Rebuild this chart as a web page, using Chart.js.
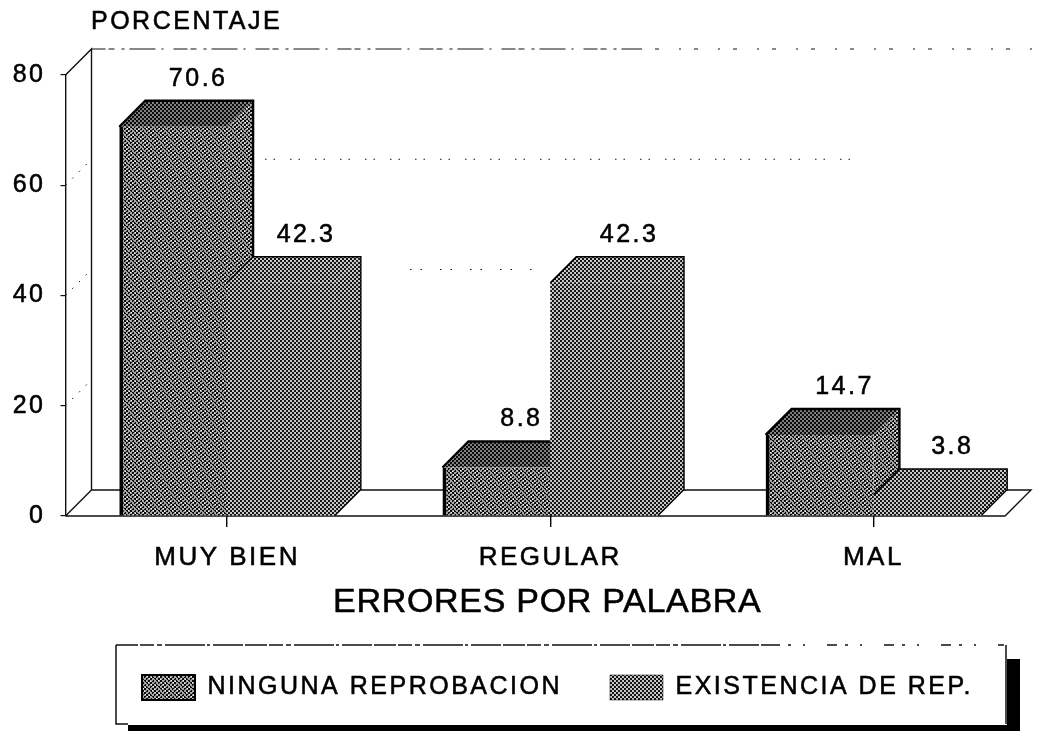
<!DOCTYPE html>
<html>
<head>
<meta charset="utf-8">
<script src="https://cdn.jsdelivr.net/npm/chart.js@4"></script>
<style>html,body{margin:0;padding:0;background:#fff}#w{width:1047px;height:731px}</style>
</head>
<body>
<div id="w"><canvas id="c" width="1047" height="731"></canvas></div>
<script>
const categories = ['MUY BIEN', 'REGULAR', 'MAL'];
const seriesNames = ['NINGUNA REPROBACION', 'EXISTENCIA DE REP.'];
const ningunaReprobacion = [70.6, 8.8, 14.7];
const existenciaDeRep = [42.3, 42.3, 3.8];
const yTicks = [0, 20, 40, 60, 80];
const axisTitleX = 'ERRORES POR PALABRA';
const axisTitleY = 'PORCENTAJE';

const DEPTH = 26;
const LS = '2.5px';
const LEGEND_PAD = 48;
const FONT = '"Liberation Sans", Arial, sans-serif';

function tile(size, fn) {
  const t = document.createElement('canvas');
  t.width = t.height = size;
  const g = t.getContext('2d');
  for (let y = 0; y < size; y++) for (let x = 0; x < size; x++) {
    g.fillStyle = fn(x, y);
    g.fillRect(x, y, 1, 1);
  }
  return document.createElement('canvas').getContext('2d').createPattern(t, 'repeat');
}
const isCell = (x, y) => (x % 4 < 2) === (y % 4 < 2);
// Printed halftone screens
const screenA = tile(44, (x, y) => {
  const speck = ((x * 7 + y * 13) % 44) < 6;
  return isCell(x, y) ? (speck ? '#8a8a8a' : '#0a0a0a') : (speck ? '#ffffff' : '#a8a8a8');
});
const screenB = tile(4, (x, y) => (isCell(x, y) ? '#141414' : '#c8c8c8'));
const screenDark = tile(4, (x, y) => (isCell(x, y) ? '#0a0a0a' : '#808080'));

const ctx = document.getElementById('c').getContext('2d');

// The scan thickens every glyph slightly
const plainFill = ctx.fillText.bind(ctx);
ctx.fillText = function (t, x, y, m) {
  plainFill(t, x, y, m);
  const s = ctx.strokeStyle, w = ctx.lineWidth;
  ctx.strokeStyle = ctx.fillStyle;
  ctx.lineWidth = 0.55;
  ctx.setLineDash([]);
  ctx.strokeText(t, x, y, m);
  ctx.strokeStyle = s; ctx.lineWidth = w;
};

const printStyle = {
  id: 'printStyle',
  beforeUpdate(chart) { chart.ctx.letterSpacing = LS; },
  beforeLayout(chart) { chart.ctx.letterSpacing = LS; },
  beforeDraw(chart) {
    chart.ctx.letterSpacing = LS;
    const s = chart.scales.x;
    if (!s.__wrapped) {
      s.__wrapped = true;
      const orig = s.drawTitle;
      s.drawTitle = function () {
        chart.ctx.save();
        chart.ctx.translate(-3, 0);
        chart.ctx.letterSpacing = '0.7px';
        orig.apply(this, arguments);
        chart.ctx.restore();
        chart.ctx.letterSpacing = LS;
      };
    }
  },
  afterLayout(chart) {
    const t = chart.titleBlock;
    t.left = 91; t.top = 7;
    const l = chart.legend;
    l.left = 142 - LEGEND_PAD; l.top = 675 - LEGEND_PAD;
    l.right = l.left + 1000;
  },
  beforeDatasetsDraw(chart) {
    const c = chart.ctx, a = chart.chartArea, y = chart.scales.y;
    const base = y.getPixelForValue(0);
    c.save();
    c.letterSpacing = '0px';
    // walls and floor
    c.strokeStyle = '#111';
    c.lineWidth = 1.4;
    c.beginPath();
    c.moveTo(a.left, a.top); c.lineTo(a.left + DEPTH, a.top - DEPTH);
    c.lineTo(a.left + DEPTH, base - DEPTH);
    c.lineTo(a.left, base);
    c.moveTo(a.left + DEPTH, base - DEPTH); c.lineTo(a.right - 4, base - DEPTH);
    c.lineTo(a.right - 30, base);
    c.lineTo(a.left, base);
    c.stroke();
    // sparse back-wall grid as it survives in the print
    const gridRuns = [
      [80, a.left + DEPTH, 640, [14, 3, 6, 7, 3, 5, 26, 6, 2, 10]],
      [80, 640, a.right, [2, 13, 4, 20]],
      [60, 265, 860, [1.5, 7, 1.5, 15]],
      [40, 410, 540, [1.5, 9, 1.5, 18]]
    ];
    gridRuns.forEach(([v, x0, x1, dash]) => {
      c.setLineDash(dash);
      c.lineWidth = 1;
      c.beginPath();
      c.moveTo(x0, y.getPixelForValue(v) - DEPTH);
      c.lineTo(x1, y.getPixelForValue(v) - DEPTH);
      c.stroke();
    });
    c.setLineDash([1.5, 8]);
    [20, 40, 60].forEach(v => {
      const p = y.getPixelForValue(v);
      c.beginPath(); c.moveTo(a.left, p); c.lineTo(a.left + DEPTH, p - DEPTH); c.stroke();
    });
    c.setLineDash([]);
    // depth faces of each bar, read from the bar elements
    [0, 1].forEach(i => {
      chart.getDatasetMeta(i).data.forEach(b => {
        const { x, y: top, base: bot, width } = b.getProps(['x', 'y', 'base', 'width'], true);
        const x0 = x - width / 2, x1 = x + width / 2, d = DEPTH;
        c.fillStyle = i === 0 ? screenA : screenB;
        c.beginPath();
        c.moveTo(x1, top); c.lineTo(x1 + d, top - d); c.lineTo(x1 + d, bot - d); c.lineTo(x1, bot); c.closePath();
        c.fill();
        c.fillStyle = i === 0 ? screenDark : screenB;
        c.beginPath();
        c.moveTo(x0, top); c.lineTo(x0 + d, top - d); c.lineTo(x1 + d, top - d); c.lineTo(x1, top); c.closePath();
        c.fill();
        c.strokeStyle = '#000';
        c.lineWidth = i === 0 ? 2.4 : 1.4;
        c.beginPath();
        c.moveTo(x0, top); c.lineTo(x0 + d, top - d); c.lineTo(x1 + d, top - d); c.lineTo(x1 + d, bot - d); c.lineTo(x1, bot);
        c.stroke();
      });
    });
    c.restore();
  },
  afterDatasetsDraw(chart) {
    const c = chart.ctx;
    c.save();
    c.fillStyle = '#000';
    c.font = '25px ' + FONT;
    c.textAlign = 'center';
    c.textBaseline = 'middle';
    c.letterSpacing = '2.5px';
    [0, 1].forEach(i => {
      const vals = chart.data.datasets[i].data;
      chart.getDatasetMeta(i).data.forEach((b, k) => {
        c.fillText(vals[k].toFixed(1), b.x + DEPTH - 1, b.y - DEPTH - 22);
      });
    });
    c.restore();
  },
  afterDraw(chart) {
    const c = chart.ctx;
    c.save();
    c.strokeStyle = '#111';
    c.lineWidth = 1.5;
    c.setLineDash([22, 2, 14, 3, 5, 3, 40, 2, 3, 3, 30, 2]);
    c.beginPath(); c.moveTo(116, 645); c.lineTo(770, 645); c.stroke();
    c.setLineDash([10, 8, 3, 12, 2, 22]);
    c.beginPath(); c.moveTo(770, 645); c.lineTo(1004, 645); c.stroke();
    c.setLineDash([]);
    c.beginPath(); c.moveTo(116, 645); c.lineTo(116, 724); c.lineTo(128, 724); c.moveTo(1006, 645); c.lineTo(1006, 724); c.stroke();
    c.fillStyle = '#000';
    c.fillRect(1007, 659, 13, 72);
    c.fillRect(128, 725, 892, 6);
    c.restore();
  }
};

new Chart(ctx, {
  type: 'bar',
  data: {
    labels: categories,
    datasets: [
      { label: seriesNames[0], data: ningunaReprobacion, backgroundColor: screenA, borderColor: '#000', borderWidth: { left: 4, bottom: 4, top: 0, right: 0 } },
      { label: seriesNames[1], data: existenciaDeRep, backgroundColor: screenB, borderColor: '#000', borderWidth: { left: 0, bottom: 2, top: 0, right: 0 } }
    ]
  },
  options: {
    responsive: false,
    animation: false,
    layout: { padding: { left: 0, right: 12, top: 45, bottom: 25 } },
    datasets: { bar: { categoryPercentage: 0.667, barPercentage: 1 } },
    plugins: {
      tooltip: { enabled: false },
      title: {
        display: true, text: axisTitleY, align: 'start', color: '#000',
        padding: 0, font: { family: FONT, size: 25, weight: 'normal' }
      },
      legend: {
        position: 'bottom', align: 'start',
        labels: {
          color: '#000', boxWidth: 53, boxHeight: 25, padding: LEGEND_PAD,
          font: { family: FONT, size: 25 }
        }
      }
    },
    scales: {
      x: {
        offset: true,
        grid: { display: true, offset: false, drawOnChartArea: false, color: '#000', tickLength: 11, lineWidth: 1.4 },
        border: { display: false },
        ticks: { color: '#000', padding: 15, maxRotation: 0, autoSkip: false, font: { family: FONT, size: 26 } },
        title: { display: true, text: axisTitleX, color: '#000', padding: 0, font: { family: FONT, size: 34 } },
        afterFit(s) { s.height = 107; }
      },
      y: {
        min: 0, max: 80,
        afterBuildTicks(s) { s.ticks = yTicks.map(v => ({ value: v })); },
        grid: { display: true, drawOnChartArea: false, color: '#111', tickLength: 5, lineWidth: 1.2 },
        border: { display: true, color: '#111', width: 1.4 },
        ticks: { color: '#000', padding: 15, font: { family: FONT, size: 25 } },
        afterFit(s) { s.width = 65.5; }
      }
    }
  },
  plugins: [printStyle]
});
</script>
</body>
</html>
